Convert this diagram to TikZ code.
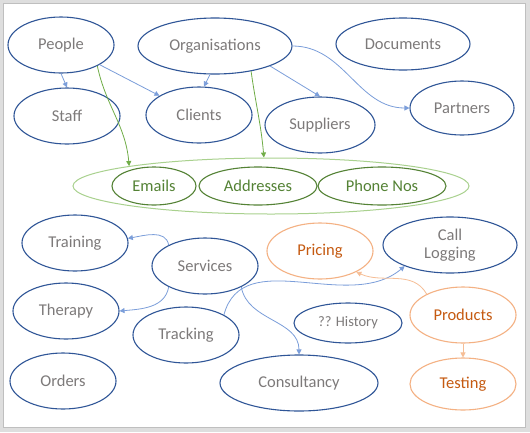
\documentclass[tikz,border=0pt]{standalone}
\usepackage{fontspec}
\setmainfont{Carlito}
\usetikzlibrary{shapes.geometric, arrows.meta, backgrounds}

\definecolor{entblue}{RGB}{47,85,151}
\definecolor{enttext}{RGB}{125,122,122}
\definecolor{linkblue}{RGB}{123,158,218}
\definecolor{grpgreen}{RGB}{169,209,142}
\definecolor{entgreen}{RGB}{84,130,53}
\definecolor{linkgreen}{RGB}{112,173,71}
\definecolor{entorange}{RGB}{244,177,131}
\definecolor{txtorange}{RGB}{197,90,17}
\definecolor{linkorange}{RGB}{246,190,150}

\begin{document}
\begin{tikzpicture}[
        x=1pt, y=1pt,
        entity/.style={ellipse, draw=entblue, line width=1.1pt, minimum width=106pt, minimum height=56pt, inner sep=0pt, align=center, text=enttext, font=\fontsize{16.5}{18}\selectfont},
        greenent/.style={entity, draw=entgreen, text=entgreen, minimum height=38pt},
        orangeent/.style={entity, draw=entorange, text=txtorange},
        groupbox/.style={ellipse, draw=grpgreen, line width=1pt, minimum width=396pt, minimum height=56pt},
        link/.style={-{Triangle[length=5pt,width=5pt]}, draw=linkblue, line width=0.8pt},
        greenlink/.style={link, draw=linkgreen},
        orangelink/.style={link, draw=linkorange}
    ]
    % Row 1: People and organisations
    \node (people) [entity] at (61,-45) {People};
    \node (orgs) [entity, minimum width=154pt] at (215,-46) {Organisations};
    \node (documents) [entity, minimum width=134pt, minimum height=52pt] at (403,-44) {Documents};

    % Row 2: Roles
    \node (staff) [entity] at (67,-116) {Staff};
    \node (clients) [entity] at (199,-115) {Clients};
    \node (suppliers) [entity, minimum width=110pt] at (320,-125) {Suppliers};
    \node (partners) [entity, minimum width=104pt, minimum height=54pt] at (462,-108) {Partners};

    % Row 3: Contact details
    \node (emails) [greenent, minimum width=84pt] at (154,-186) {Emails};
    \node (addresses) [greenent, minimum width=118pt] at (258,-186) {Addresses};
    \node (phone) [greenent, minimum width=128pt] at (382,-186) {Phone Nos};

    % Row 4: Services and the rest
    \node (training) [entity] at (75,-243) {Training};
    \node (services) [entity] at (205,-266) {Services};
    \node (therapy) [entity] at (66,-311) {Therapy};
    \node (tracking) [entity] at (186,-335) {Tracking};
    \node (orders) [entity] at (63,-381) {Orders};
    \node (consultancy) [entity, minimum width=158pt] at (299,-383) {Consultancy};
    \node (calllog) [entity, minimum width=134pt] at (450,-245) {Call\\Logging};
    \node (history) [entity, minimum width=108pt, minimum height=40pt, font=\fontsize{14.5}{16}\selectfont] at (348,-323) {?? History};

    % Products
    \node (pricing) [orangeent] at (320,-251) {Pricing};
    \node (products) [orangeent] at (463,-315) {Products};
    \node (testing) [orangeent, minimum height=52pt] at (463,-384) {Testing};

    % Frame and group box
    \begin{scope}[on background layer]
        \fill[black!13] (0,0) rectangle (530,-432);
        \draw[black!25, fill=white, line width=0.5pt] (3,-3) rectangle (525,-427);
        \node (contact) [groupbox] at (271,-186) {};
    \end{scope}

    % Arrows: Row 1 to Row 2
    \draw [link] (people.south) -- (staff.north);
    \draw [link] (people.-27) -- (clients.154);
    \draw [link] (orgs.-100) -- (clients.80);
    \draw [link] (orgs.-20) -- (suppliers.north);
    \draw [link] (orgs.east) to[out=0, in=180] (partners.west);

    % Arrows: to contact details
    \draw [greenlink] (people.-30) to[out=-78, in=95] (contact.172);
    \draw [greenlink] (orgs.-35) to[out=-82, in=95] (contact.104);

    % Arrows: Services
    \draw [link] (services.150) to[out=100, in=10] (training.5);
    \draw [link] (services.210) to[out=-100, in=5] (therapy.east);
    \draw [link] (services.-30) to[out=-80, in=90] (consultancy.north);
    \draw [link] (tracking.28) to[out=75, in=-140] (calllog.205);

    % Arrows: Products
    \draw [orangelink] (products.150) to[out=120, in=-25] (pricing.-30);
    \draw [orangelink] (products.south) -- (testing.north);
\end{tikzpicture}
\end{document}
